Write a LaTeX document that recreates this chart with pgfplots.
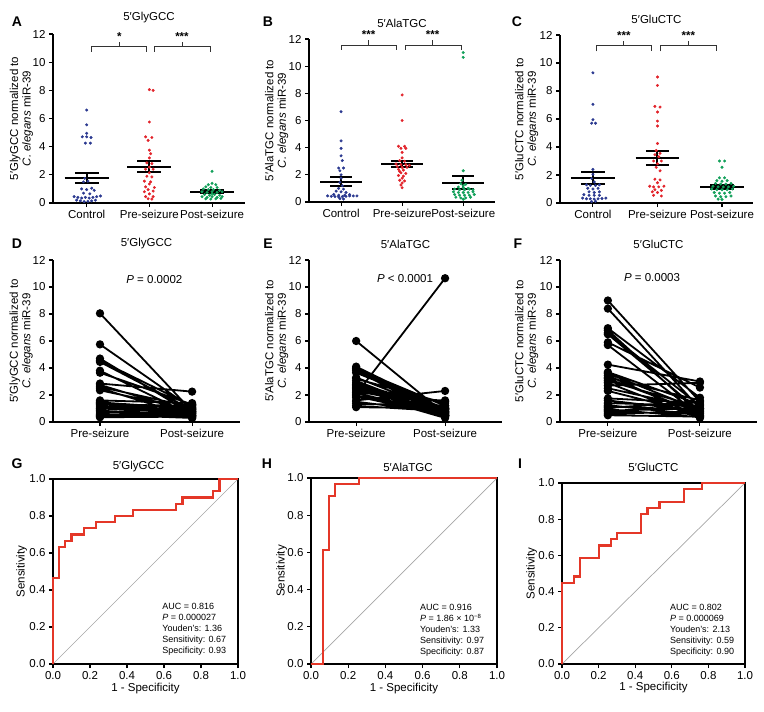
\documentclass[border=0pt]{standalone}
\usepackage{fontspec}
\setmainfont{Liberation Sans}
\usepackage{pgfplots}
\pgfplotsset{compat=1.18}

\definecolor{ctrlCol}{RGB}{43,57,144}
\definecolor{preCol}{RGB}{226,35,42}
\definecolor{postCol}{RGB}{18,160,90}
\definecolor{rocCol}{RGB}{228,55,40}

\newcommand{\fsz}{\fontsize{11.5}{12.5}\selectfont}
\newcommand{\fan}{\fontsize{9}{11}\selectfont}

\tikzset{brk/.style={black!80, line width=0.9pt}}

\pgfplotsset{
  base/.style={scale only axis, clip=false, anchor=south west,
    /pgf/number format/assume math mode=true,
    tick label style={font=\fsz},
    label style={font=\fsz},
    title style={font=\fsz, anchor=center, yshift=10pt},
    tick align=outside, major tick length=4pt,
    every tick/.style={black, line width=1.1pt}},
  ylab/.style={ylabel style={at={(axis description cs:#1,0.5)}, anchor=center, align=center}},
  dotax/.style={base, axis lines*=left, axis line style={line width=1.5pt},
    ymin=0, ymax=12, ytick={0,2,...,12}, xtick={1,2,3},
    xticklabels={Control,Pre-seizure,Post-seizure}},
  pairax/.style={base, axis lines*=left, axis line style={line width=1.5pt},
    ymin=0, ymax=12, ytick={0,2,...,12}, xtick={1,2},
    xticklabels={Pre-seizure,Post-seizure}},
  rocax/.style={base, axis line style={line width=1.1pt},
    xmin=0, xmax=1, ymin=0, ymax=1, xtick pos=left, ytick pos=left,
    xtick={0,0.2,0.4,0.6,0.8,1}, ytick={0,0.2,0.4,0.6,0.8,1},
    xticklabels={0.0,0.2,0.4,0.6,0.8,1.0}, yticklabels={0.0,0.2,0.4,0.6,0.8,1.0},
    xlabel={1 - Specificity}, ylabel={Sensitivity},
    xlabel style={at={(axis description cs:0.5,-0.13)}, anchor=center}},
  dots/.style={only marks, mark=*, mark size=1.3pt, color=#1},
  sem/.style={black, line width=2pt, unbounded coords=jump},
  pairs/.style={black, line width=1.8pt, mark=*, mark size=3.2pt, unbounded coords=jump},
  roc/.style={rocCol, line width=2.2pt},
  diag/.style={gray!70, line width=0.7pt},
}

\begin{document}
\begin{tikzpicture}
\useasboundingbox (0,0) rectangle (764pt,-712pt);

% ---------------- A ----------------
\begin{axis}[dotax, at={(53pt,-203pt)}, width=192pt, height=169pt,
  xmin=0.463, xmax=3.525, ylab=-0.164, title={5′GlyGCC},
  ylabel={5′GlyGCC normalized to\\\textit{C. elegans} miR-39}]
\addplot[dots=ctrlCol] coordinates {
(1.00,6.6)(1.00,5.55)(1.00,4.95)(0.93,4.7)(1.00,4.7)(1.07,4.65)(0.98,4.25)(1.06,4.25)
(0.97,1.75)(1.02,1.55)(0.95,1.5)(0.92,1.0)(1.00,0.95)(1.08,1.05)(1.12,0.9)
(0.95,0.7)(1.05,0.65)
(0.80,0.45)(0.86,0.4)(0.92,0.35)(0.98,0.4)(1.04,0.35)(1.10,0.4)(1.16,0.45)(1.22,0.5)
(0.84,0.2)(0.90,0.15)(0.96,0.1)(1.02,0.12)(1.08,0.15)(1.14,0.2)};
\addplot[dots=preCol] coordinates {
(2.00,8.05)(2.06,8.0)(2.00,5.75)(1.94,4.7)(2.04,4.65)(1.98,4.45)(2.00,3.75)(2.02,3.5)
(2.00,3.2)(1.96,2.85)(2.04,2.8)(2.00,2.55)(1.94,2.4)(2.06,2.4)(2.00,2.15)(1.96,1.9)
(2.04,1.85)(1.92,1.55)(2.02,1.5)(2.00,1.35)(1.94,1.15)(2.08,1.1)(1.98,0.95)(2.06,0.85)
(1.92,0.8)(2.00,0.65)(1.94,0.45)(2.06,0.45)(1.98,0.3)(2.04,0.28)};
\addplot[dots=postCol] coordinates {
(3.00,2.25)(3.00,1.4)(2.94,1.3)(3.06,1.3)(2.90,1.15)(2.98,1.1)(3.08,1.1)(2.86,1.0)
(2.94,0.95)(3.02,0.95)(3.12,0.9)(2.84,0.8)(2.92,0.75)(3.00,0.8)(3.08,0.75)(3.16,0.8)
(2.88,0.6)(2.96,0.55)(3.04,0.6)(3.12,0.55)(2.84,0.45)(2.92,0.4)(3.00,0.45)(3.08,0.4)
(3.16,0.45)(2.90,0.3)(2.98,0.28)(3.06,0.3)(3.14,0.32)(3.00,0.65)};
\addplot[sem] coordinates {
(0.65,1.78)(1.35,1.78)(1,nan)(0.81,2.14)(1.19,2.14)(1,nan)(0.81,1.42)(1.19,1.42)(1,nan)(1,1.42)(1,2.14)(1,nan)
(1.65,2.54)(2.35,2.54)(2,nan)(1.81,2.96)(2.19,2.96)(2,nan)(1.81,2.17)(2.19,2.17)(2,nan)(2,2.17)(2,2.96)(2,nan)
(2.65,0.80)(3.35,0.80)(3,nan)(2.81,0.92)(3.19,0.92)(3,nan)(2.81,0.70)(3.19,0.70)(3,nan)(3,0.70)(3,0.92)};
\draw[brk] (axis cs:1.08,10.75) -- (axis cs:1.08,11.1) -- (axis cs:1.96,11.1) -- (axis cs:1.96,10.75);
\draw[brk] (axis cs:1.52,11.1) -- (axis cs:1.52,11.45);
\draw[brk] (axis cs:2.08,10.75) -- (axis cs:2.08,11.1) -- (axis cs:2.97,11.1) -- (axis cs:2.97,10.75);
\draw[brk] (axis cs:2.52,11.1) -- (axis cs:2.52,11.45);
\node[font=\bfseries\fsz] at (axis cs:1.52,11.8) {*};
\node[font=\bfseries\fsz] at (axis cs:2.52,11.8) {***};
\end{axis}

% ---------------- B ----------------
\begin{axis}[dotax, at={(309pt,-202pt)}, width=186pt, height=163pt,
  xmin=0.475, xmax=3.52, ylab=-0.174, title={5′AlaTGC},
  ylabel={5′AlaTGC normalized to\\\textit{C. elegans} miR-39}]
\addplot[dots=ctrlCol] coordinates {
(1.00,6.65)(1.00,4.5)(1.00,3.95)(1.00,3.4)(1.02,3.05)(0.96,2.5)(1.04,2.5)(0.98,2.3)
(1.00,2.0)(1.00,1.75)(0.98,1.45)(1.02,1.2)(0.96,1.0)(1.04,0.95)(0.92,0.8)(1.00,0.75)
(1.08,0.7)(0.88,0.55)(0.96,0.5)(1.06,0.5)(1.14,0.55)(0.78,0.45)(0.84,0.42)(0.90,0.4)
(0.96,0.38)(1.02,0.4)(1.08,0.42)(1.14,0.45)(1.20,0.45)(1.26,0.45)(0.98,0.25)(1.04,0.22)};
\addplot[dots=preCol] coordinates {
(2.00,7.88)(2.00,6.0)(1.94,4.1)(2.04,4.1)(1.98,3.95)(2.06,3.95)(2.00,3.65)(2.00,3.25)
(1.96,3.05)(2.04,3.0)(1.90,2.8)(1.98,2.75)(2.06,2.75)(2.12,2.7)(1.92,2.6)(2.00,2.55)
(2.08,2.55)(1.94,2.4)(2.02,2.35)(1.98,2.15)(2.06,2.1)(1.94,1.95)(2.02,1.9)(2.00,1.75)
(1.96,1.6)(2.04,1.55)(2.00,1.4)(1.98,1.25)(2.00,1.05)(1.96,2.25)};
\addplot[dots=postCol] coordinates {
(3.00,11.0)(3.00,10.65)(3.00,2.3)(2.98,1.6)(2.96,1.35)(3.04,1.3)(2.92,1.1)(3.00,1.05)
(3.08,1.0)(2.86,0.95)(2.94,0.9)(3.02,0.9)(3.10,0.95)(3.16,0.9)(2.84,0.75)(2.92,0.7)
(3.00,0.7)(3.08,0.7)(3.16,0.75)(2.86,0.55)(2.94,0.5)(3.02,0.5)(3.10,0.5)(3.18,0.55)
(2.88,0.35)(2.96,0.3)(3.04,0.3)(3.12,0.35)(3.00,0.2)(3.00,1.2)};
\addplot[sem] coordinates {
(0.66,1.50)(1.34,1.50)(1,nan)(0.82,1.82)(1.18,1.82)(1,nan)(0.82,1.20)(1.18,1.20)(1,nan)(1,1.20)(1,1.82)(1,nan)
(1.66,2.80)(2.34,2.80)(2,nan)(1.82,3.04)(2.18,3.04)(2,nan)(1.82,2.56)(2.18,2.56)(2,nan)(2,2.56)(2,3.04)(2,nan)
(2.66,1.42)(3.34,1.42)(3,nan)(2.82,1.91)(3.18,1.91)(3,nan)(2.82,0.96)(3.18,0.96)(3,nan)(3,0.96)(3,1.91)};
\draw[brk] (axis cs:1.0,11.2) -- (axis cs:1.0,11.56) -- (axis cs:1.9,11.56) -- (axis cs:1.9,11.2);
\draw[brk] (axis cs:1.45,11.56) -- (axis cs:1.45,11.9);
\draw[brk] (axis cs:2.05,11.2) -- (axis cs:2.05,11.56) -- (axis cs:2.97,11.56) -- (axis cs:2.97,11.2);
\draw[brk] (axis cs:2.5,11.56) -- (axis cs:2.5,11.9);
\node[font=\bfseries\fsz] at (axis cs:1.45,12.3) {***};
\node[font=\bfseries\fsz] at (axis cs:2.5,12.3) {***};
\end{axis}

% ---------------- C ----------------
\begin{axis}[dotax, at={(560pt,-203pt)}, width=193pt, height=168pt,
  xmin=0.49, xmax=3.48, ylab=-0.173, title={5′GluCTC},
  ylabel={5′GluCTC normalized to\\\textit{C. elegans} miR-39}]
\addplot[dots=ctrlCol] coordinates {
(1.00,9.3)(1.00,7.05)(1.00,5.95)(0.98,5.7)(1.04,5.7)(1.00,2.4)(1.00,2.05)(0.98,1.75)
(1.02,1.5)(0.90,1.3)(0.96,1.25)(1.04,1.25)(1.10,1.3)(0.92,1.05)(1.00,1.0)(1.08,1.05)
(0.94,0.8)(1.02,0.75)(1.10,0.8)(0.86,0.6)(0.94,0.55)(1.02,0.55)(1.10,0.55)(0.84,0.35)
(0.90,0.3)(0.96,0.3)(1.02,0.28)(1.08,0.3)(1.14,0.32)(1.20,0.35)(0.98,0.1)(1.04,0.12)};
\addplot[dots=preCol] coordinates {
(2.00,9.0)(2.00,8.4)(1.96,6.9)(2.04,6.85)(2.00,6.5)(2.00,5.85)(2.00,5.5)(2.00,4.25)
(1.98,3.75)(2.04,3.55)(1.96,3.45)(2.02,3.3)(1.94,3.0)(2.06,3.0)(2.00,2.8)(1.98,2.55)
(2.04,2.3)(1.96,1.7)(2.04,1.65)(2.00,1.45)(1.88,1.2)(1.94,1.15)(2.02,1.15)(2.10,1.2)
(1.96,0.95)(2.06,0.9)(1.92,0.8)(2.00,0.75)(1.94,0.55)(2.06,0.5)};
\addplot[dots=postCol] coordinates {
(2.96,3.0)(3.04,3.0)(3.00,2.55)(2.96,1.8)(3.04,1.8)(2.92,1.6)(3.00,1.55)(3.08,1.6)
(2.90,1.4)(2.98,1.35)(3.06,1.35)(3.14,1.4)(2.86,1.2)(2.94,1.15)(3.02,1.15)(3.10,1.15)
(3.18,1.2)(2.84,1.0)(2.92,0.95)(3.00,0.95)(3.08,0.95)(3.16,1.0)(2.88,0.75)(2.96,0.7)
(3.04,0.7)(3.12,0.75)(2.90,0.5)(2.98,0.45)(3.06,0.45)(3.14,0.5)(3.00,0.25)(2.94,0.28)};
\addplot[sem] coordinates {
(0.66,1.77)(1.34,1.77)(1,nan)(0.82,2.20)(1.18,2.20)(1,nan)(0.82,1.34)(1.18,1.34)(1,nan)(1,1.34)(1,2.20)(1,nan)
(1.66,3.22)(2.34,3.22)(2,nan)(1.82,3.70)(2.18,3.70)(2,nan)(1.82,2.74)(2.18,2.74)(2,nan)(2,2.74)(2,3.70)(2,nan)
(2.66,1.12)(3.34,1.12)(3,nan)(2.82,1.28)(3.18,1.28)(3,nan)(2.82,0.97)(3.18,0.97)(3,nan)(3,0.97)(3,1.28)};
\draw[brk] (axis cs:1.05,10.83) -- (axis cs:1.05,11.26) -- (axis cs:1.91,11.26) -- (axis cs:1.91,10.83);
\draw[brk] (axis cs:1.48,11.26) -- (axis cs:1.48,11.6);
\draw[brk] (axis cs:2.05,10.83) -- (axis cs:2.05,11.26) -- (axis cs:2.92,11.26) -- (axis cs:2.92,10.83);
\draw[brk] (axis cs:2.48,11.26) -- (axis cs:2.48,11.6);
\node[font=\bfseries\fsz] at (axis cs:1.48,11.95) {***};
\node[font=\bfseries\fsz] at (axis cs:2.48,11.95) {***};
\end{axis}

% ---------------- D ----------------
\begin{axis}[pairax, at={(53pt,-422pt)}, width=187pt, height=162pt,
  xmin=0.49, xmax=2.52, ylab=-0.17, title={5′GlyGCC},
  ylabel={5′GlyGCC normalized to\\\textit{C. elegans} miR-39}]
\addplot[pairs] coordinates {
(1,8.05)(2,0.8)(1,nan)(1,5.75)(2,1.0)(1,nan)(1,4.7)(2,0.6)(1,nan)(1,4.55)(2,1.2)(1,nan)
(1,4.45)(2,0.9)(1,nan)(1,3.8)(2,0.5)(1,nan)(1,3.65)(2,1.3)(1,nan)(1,2.85)(2,2.25)(1,nan)
(1,2.75)(2,0.7)(1,nan)(1,2.6)(2,1.1)(1,nan)(1,2.5)(2,0.4)(1,nan)(1,2.35)(2,0.9)(1,nan)
(1,1.6)(2,1.4)(1,nan)(1,1.5)(2,0.6)(1,nan)(1,1.45)(2,1.0)(1,nan)(1,1.4)(2,0.3)(1,nan)
(1,1.35)(2,0.8)(1,nan)(1,1.3)(2,1.2)(1,nan)(1,1.2)(2,0.5)(1,nan)(1,1.1)(2,0.9)(1,nan)
(1,1.0)(2,0.7)(1,nan)(1,0.95)(2,1.3)(1,nan)(1,0.85)(2,0.4)(1,nan)(1,0.75)(2,0.6)(1,nan)
(1,0.65)(2,1.1)(1,nan)(1,0.55)(2,0.3)(1,nan)(1,0.5)(2,0.8)(1,nan)(1,0.45)(2,0.5)(1,nan)
(1,0.4)(2,0.7)(1,nan)(1,0.35)(2,0.4)};
\node[font=\fsz] at (axis cs:1.59,10.55) {\textit{P} = 0.0002};
\end{axis}

% ---------------- E ----------------
\begin{axis}[pairax, at={(309pt,-422pt)}, width=193pt, height=162pt,
  xmin=0.47, xmax=2.64, ylab=-0.167, title={5′AlaTGC},
  ylabel={5′AlaTGC normalized to\\\textit{C. elegans} miR-39}]
\addplot[pairs] coordinates {
(1,6.0)(2,0.6)(1,nan)(1,4.1)(2,0.9)(1,nan)(1,4.0)(2,0.5)(1,nan)(1,3.95)(2,1.2)(1,nan)
(1,3.9)(2,0.8)(1,nan)(1,3.8)(2,0.4)(1,nan)(1,3.65)(2,1.0)(1,nan)(1,3.3)(2,0.7)(1,nan)
(1,3.2)(2,1.4)(1,nan)(1,3.05)(2,0.5)(1,nan)(1,2.9)(2,0.9)(1,nan)(1,2.8)(2,0.6)(1,nan)
(1,2.75)(2,1.1)(1,nan)(1,2.7)(2,0.4)(1,nan)(1,2.6)(2,0.8)(1,nan)(1,2.55)(2,1.5)(1,nan)
(1,2.5)(2,0.5)(1,nan)(1,2.4)(2,0.7)(1,nan)(1,2.3)(2,1.0)(1,nan)(1,2.2)(2,0.3)(1,nan)
(1,2.15)(2,0.6)(1,nan)(1,2.05)(2,10.65)(1,nan)(1,1.95)(2,0.9)(1,nan)(1,1.9)(2,0.5)(1,nan)
(1,1.8)(2,1.6)(1,nan)(1,1.6)(2,2.3)(1,nan)(1,1.5)(2,0.7)(1,nan)(1,1.35)(2,1.2)(1,nan)
(1,1.2)(2,0.8)(1,nan)(1,1.1)(2,1.0)};
\node[font=\fsz] at (axis cs:1.55,10.65) {\textit{P} < 0.0001};
\end{axis}

% ---------------- F ----------------
\begin{axis}[pairax, at={(560pt,-422pt)}, width=197pt, height=162pt,
  xmin=0.48, xmax=2.62, ylab=-0.169, title={5′GluCTC},
  ylabel={5′GluCTC normalized to\\\textit{C. elegans} miR-39}]
\addplot[pairs] coordinates {
(1,9.0)(2,1.5)(1,nan)(1,8.4)(2,1.0)(1,nan)(1,6.95)(2,1.8)(1,nan)(1,6.8)(2,0.6)(1,nan)
(1,6.6)(2,1.2)(1,nan)(1,6.5)(2,0.8)(1,nan)(1,5.9)(2,2.55)(1,nan)(1,5.7)(2,0.5)(1,nan)
(1,4.25)(2,3.0)(1,nan)(1,3.7)(2,1.3)(1,nan)(1,3.6)(2,0.9)(1,nan)(1,3.45)(2,0.4)(1,nan)
(1,3.3)(2,1.6)(1,nan)(1,3.2)(2,0.7)(1,nan)(1,3.05)(2,1.1)(1,nan)(1,2.9)(2,0.3)(1,nan)
(1,2.7)(2,2.9)(1,nan)(1,2.5)(2,1.0)(1,nan)(1,2.3)(2,0.6)(1,nan)(1,1.75)(2,1.4)(1,nan)
(1,1.6)(2,0.8)(1,nan)(1,1.4)(2,1.2)(1,nan)(1,1.25)(2,0.5)(1,nan)(1,1.15)(2,0.9)(1,nan)
(1,1.05)(2,1.5)(1,nan)(1,0.95)(2,0.35)(1,nan)(1,0.85)(2,1.0)(1,nan)(1,0.75)(2,0.6)(1,nan)
(1,0.6)(2,0.8)(1,nan)(1,0.5)(2,0.4)};
\node[font=\fsz] at (axis cs:1.48,10.7) {\textit{P} = 0.0003};
\end{axis}

% ---------------- G ----------------
\begin{axis}[rocax, at={(53pt,-664pt)}, width=185pt, height=185pt, ylab=-0.169,
  title={5′GlyGCC}, title style={yshift=-4pt, xshift=-7pt}]
\addplot[diag] coordinates {(0,0)(1,1)};
\addplot[roc] coordinates {
(0,0)(0,0.467)(0.033,0.467)(0.033,0.633)(0.067,0.633)(0.067,0.667)(0.1,0.667)(0.1,0.7)
(0.167,0.7)(0.167,0.733)(0.233,0.733)(0.233,0.767)(0.333,0.767)(0.333,0.8)(0.433,0.8)
(0.433,0.833)(0.667,0.833)(0.667,0.867)(0.7,0.867)(0.7,0.9)(0.867,0.9)(0.867,0.933)
(0.9,0.933)(0.9,1)(1,1)};
\node[anchor=north west, inner sep=0pt, align=left, font=\fan] at (axis cs:0.59,0.33)
  {AUC = 0.816\\\textit{P} = 0.000027\\Youden’s: 1.36\\Sensitivity: 0.67\\Specificity: 0.93};
\end{axis}

% ---------------- H ----------------
\begin{axis}[rocax, at={(311pt,-664pt)}, width=186pt, height=186pt, ylab=-0.158,
  title={5′AlaTGC}, title style={yshift=-5pt, xshift=4pt}]
\addplot[diag] coordinates {(0,0)(1,1)};
\addplot[roc] coordinates {
(0,0)(0.065,0)(0.065,0.613)(0.097,0.613)(0.097,0.903)(0.129,0.903)(0.129,0.968)
(0.258,0.968)(0.258,1)(1,1)};
\node[anchor=north west, inner sep=0pt, align=left, font=\fan] at (axis cs:0.586,0.32)
  {AUC = 0.916\\\textit{P} = 1.86 × 10\textsuperscript{−8}\\Youden’s: 1.33\\Sensitivity: 0.97\\Specificity: 0.87};
\end{axis}

% ---------------- I ----------------
\begin{axis}[rocax, at={(562pt,-664pt)}, width=183pt, height=181pt, ylab=-0.166,
  title={5′GluCTC}]
\addplot[diag] coordinates {(0,0)(1,1)};
\addplot[roc] coordinates {
(0,0)(0,0.448)(0.067,0.448)(0.067,0.483)(0.1,0.483)(0.1,0.586)(0.2,0.586)(0.2,0.655)
(0.267,0.655)(0.267,0.69)(0.3,0.69)(0.3,0.724)(0.433,0.724)(0.433,0.828)(0.467,0.828)
(0.467,0.862)(0.533,0.862)(0.533,0.897)(0.667,0.897)(0.667,0.966)(0.767,0.966)
(0.767,1)(1,1)};
\node[anchor=north west, inner sep=0pt, align=left, font=\fan] at (axis cs:0.59,0.33)
  {AUC = 0.802\\\textit{P} = 0.000069\\Youden’s: 2.13\\Sensitivity: 0.59\\Specificity: 0.90};
\end{axis}

% panel letters
\begin{scope}[every node/.style={font=\bfseries\fontsize{14}{14}\selectfont}]
\node at (17pt,-22pt) {A};
\node at (268pt,-22pt) {B};
\node at (517pt,-22pt) {C};
\node at (17pt,-244pt) {D};
\node at (268pt,-244pt) {E};
\node at (518pt,-244pt) {F};
\node at (17pt,-464pt) {G};
\node at (267pt,-464pt) {H};
\node at (520pt,-464pt) {I};
\end{scope}
\end{tikzpicture}
\end{document}
